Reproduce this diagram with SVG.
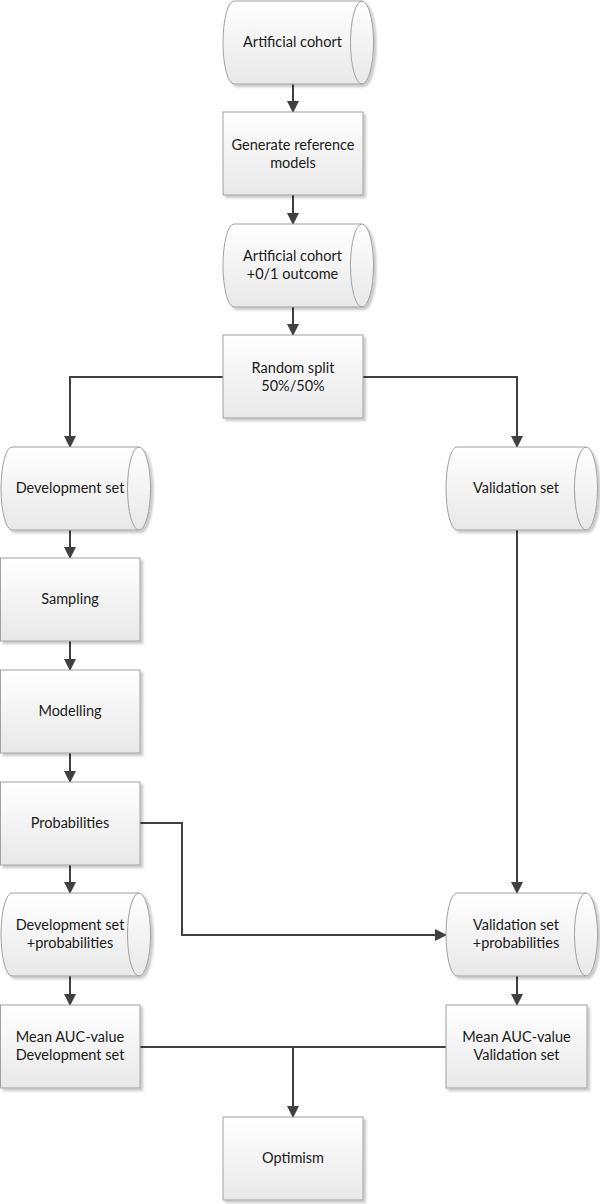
<svg xmlns="http://www.w3.org/2000/svg" width="600" height="1204" viewBox="0 0 600 1204">
<style>
.n{fill:url(#g);stroke:#a0a0a0;stroke-width:1;filter:url(#sh)}
.i{fill:none;stroke:#a0a0a0;stroke-width:1}
.t{font-family:Lato,"Liberation Sans",sans-serif;font-size:14.5px;fill:#1a1a1a;text-anchor:middle}
.c{fill:none;stroke:#404040;stroke-width:2}
.a{marker-end:url(#ah)}
</style>
<defs>
<linearGradient id="g" x1="0" y1="0" x2="0" y2="1">
<stop offset="0" stop-color="#ffffff"/>
<stop offset="1" stop-color="#e8e8e8"/>
</linearGradient>
<filter id="sh" x="-10%" y="-10%" width="130%" height="130%">
<feDropShadow dx="2.5" dy="2.5" stdDeviation="1.2" flood-color="#000" flood-opacity="0.22"/>
</filter>
<marker id="ah" viewBox="0 0 12 12" refX="11" refY="6" markerWidth="12" markerHeight="12" markerUnits="userSpaceOnUse" orient="auto">
<path d="M0,0 L12,6 L0,12 Z" fill="#404040"/>
</marker>
</defs>

<g id="connectors">
<path class="c a" d="M293,84 V112"/>
<path class="c a" d="M293,195 V224"/>
<path class="c a" d="M293,307 V335"/>
<path class="c a" d="M223,377 H70 V447"/>
<path class="c a" d="M363,377 H517 V447"/>
<path class="c a" d="M70,530 V558"/>
<path class="c a" d="M70,641 V670"/>
<path class="c a" d="M70,753 V782"/>
<path class="c a" d="M70,865 V893"/>
<path class="c a" d="M70,976 V1005"/>
<path class="c a" d="M140,823 H182 V935 H446"/>
<path class="c a" d="M517,530 V893"/>
<path class="c a" d="M517,976 V1005"/>
<path class="c" d="M140,1047 H446"/>
<path class="c a" d="M293,1047 V1117"/>
</g>

<g id="artificial-cohort">
<path class="n" d="M234,1 H362 A11.5,41.5 0 0 1 362,84 H234 A11,41.5 0 0 1 234,1 Z"/>
<path class="i" d="M362,84 A11.5,41.5 0 0 1 362,1"/>
<text class="t" x="292.5" y="47">Artificial cohort</text>
</g>

<g id="generate-reference-models">
<rect class="n" x="223" y="112" width="140" height="83"/>
<text class="t" x="293" y="149.5">Generate reference</text>
<text class="t" x="293" y="167.5">models</text>
</g>

<g id="artificial-cohort-outcome">
<path class="n" d="M234,224 H362 A11.5,41.5 0 0 1 362,307 H234 A11,41.5 0 0 1 234,224 Z"/>
<path class="i" d="M362,307 A11.5,41.5 0 0 1 362,224"/>
<text class="t" x="292.5" y="261">Artificial cohort</text>
<text class="t" x="292.5" y="279">+0/1 outcome</text>
</g>

<g id="random-split">
<rect class="n" x="223" y="335" width="140" height="83"/>
<text class="t" x="293" y="372.5">Random split</text>
<text class="t" x="293" y="390.5">50%/50%</text>
</g>

<g id="development-set">
<path class="n" d="M12,447 H139 A11.5,41.5 0 0 1 139,530 H12 A11,41.5 0 0 1 12,447 Z"/>
<path class="i" d="M139,530 A11.5,41.5 0 0 1 139,447"/>
<text class="t" x="70" y="493">Development set</text>
</g>

<g id="validation-set">
<path class="n" d="M457,447 H586 A11.5,41.5 0 0 1 586,530 H457 A11,41.5 0 0 1 457,447 Z"/>
<path class="i" d="M586,530 A11.5,41.5 0 0 1 586,447"/>
<text class="t" x="516" y="493">Validation set</text>
</g>

<g id="sampling">
<rect class="n" x="0.5" y="558" width="139.5" height="83"/>
<text class="t" x="70" y="604">Sampling</text>
</g>

<g id="modelling">
<rect class="n" x="0.5" y="670" width="139.5" height="83"/>
<text class="t" x="70" y="716">Modelling</text>
</g>

<g id="probabilities">
<rect class="n" x="0.5" y="782" width="139.5" height="83"/>
<text class="t" x="70" y="828">Probabilities</text>
</g>

<g id="development-set-probabilities">
<path class="n" d="M12,893 H139 A11.5,41.5 0 0 1 139,976 H12 A11,41.5 0 0 1 12,893 Z"/>
<path class="i" d="M139,976 A11.5,41.5 0 0 1 139,893"/>
<text class="t" x="70" y="930">Development set</text>
<text class="t" x="70" y="948">+probabilities</text>
</g>

<g id="validation-set-probabilities">
<path class="n" d="M457,893 H586 A11.5,41.5 0 0 1 586,976 H457 A11,41.5 0 0 1 457,893 Z"/>
<path class="i" d="M586,976 A11.5,41.5 0 0 1 586,893"/>
<text class="t" x="516" y="930">Validation set</text>
<text class="t" x="516" y="948">+probabilities</text>
</g>

<g id="mean-auc-development">
<rect class="n" x="0.5" y="1005" width="139.5" height="83"/>
<text class="t" x="70" y="1042">Mean AUC-value</text>
<text class="t" x="70" y="1060">Development set</text>
</g>

<g id="mean-auc-validation">
<rect class="n" x="446" y="1005" width="141" height="83"/>
<text class="t" x="516.5" y="1042">Mean AUC-value</text>
<text class="t" x="516.5" y="1060">Validation set</text>
</g>

<g id="optimism">
<rect class="n" x="223" y="1117" width="140" height="83"/>
<text class="t" x="293" y="1163">Optimism</text>
</g>
</svg>
